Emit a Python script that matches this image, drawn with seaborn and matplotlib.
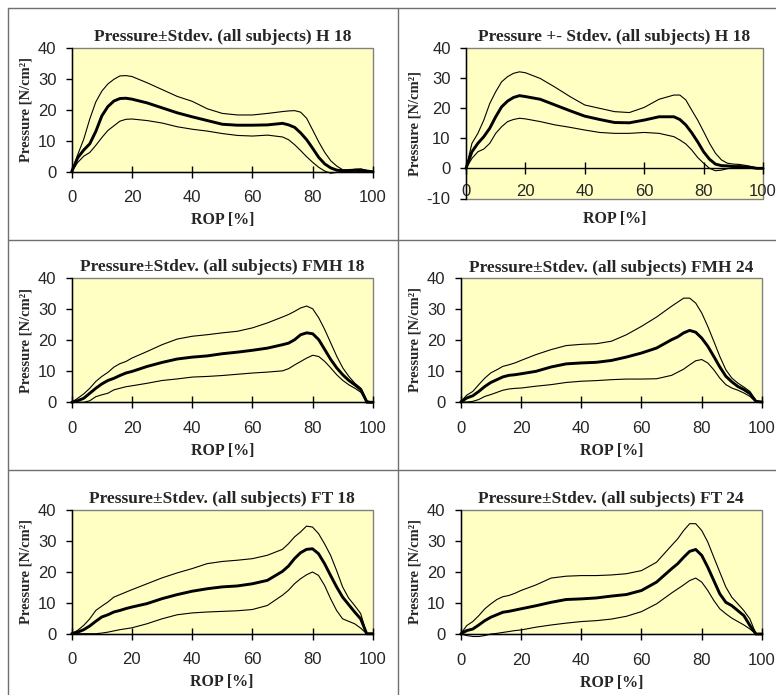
import numpy as np
import pandas as pd
import matplotlib
matplotlib.use("Agg")
import matplotlib.pyplot as plt
import seaborn as sns
from matplotlib.lines import Line2D

# ---------------- data ----------------
ROP = [0, 2, 4, 6, 8, 10, 12, 14, 16, 18, 20, 25, 30, 35, 40, 45, 50, 55, 60, 65,
       70, 72, 74, 76, 78, 80, 82, 84, 86, 88, 90, 92, 94, 96, 98, 100]

H18A_MEAN = [0, 4.5, 7, 9, 13, 18, 21, 22.8, 23.6, 23.7, 23.4, 22.2, 20.6, 19, 17.7, 16.5, 15.3, 15, 15, 15.1,
             15.6, 15.1, 14.3, 12.5, 10.3, 7.5, 4.6, 2.5, 1.2, 0.5, 0.3, 0.4, 0.5, 0.5, 0.2, 0]
H18A_UP = [0, 5.5, 10.5, 17, 22.5, 26, 28.3, 29.8, 30.9, 31, 30.7, 28.7, 26.5, 24.3, 22.7, 20.3, 18.8, 18.3, 18.3, 18.8,
           19.4, 19.6, 19.7, 19.2, 17.2, 13.4, 9.6, 6.2, 3.5, 1.8, 0.6, 0.5, 0.8, 0.9, 0.4, 0]
H18A_LO = [0, 3, 5, 6.2, 8.5, 11, 13.3, 14.8, 16.3, 16.9, 17, 16.5, 15.7, 14.5, 13.7, 13.1, 12.3, 11.7, 11.5, 11.8,
           11.2, 10.3, 8.7, 6.8, 4.8, 3, 1.4, 0.2, -0.5, -0.2, 0, 0, 0, 0, 0, 0]

H18B_MEAN = [0, 5.5, 8.3, 10.5, 13.3, 17.1, 20.4, 22.3, 23.5, 24.1, 23.8, 22.9, 21, 19.1, 17.3, 16.2, 15.2, 15.1, 16, 17.1,
             17.1, 16.2, 14.4, 11.8, 8.8, 5.5, 3, 1.4, 0.9, 0.8, 0.6, 0.6, 0.5, 0.3, 0, 0]
H18B_UP = [0, 8.3, 11.6, 16, 21.5, 25.4, 28.7, 30.4, 31.5, 32, 31.7, 29.8, 26.9, 23.8, 21, 19.9, 18.8, 18.5, 20.2, 22.9,
           24.3, 24.3, 22.7, 19.3, 16, 12.2, 8.3, 5, 2.8, 1.7, 1.4, 1.3, 1, 0.6, 0.1, 0]
H18B_LO = [0, 3.3, 5.5, 6.4, 8.3, 11.6, 13.8, 15.5, 16.2, 16.6, 16.4, 15.5, 14.4, 13.6, 12.7, 11.9, 11.6, 11.6, 11.9, 11.6,
           10.5, 9.4, 8.1, 6.1, 3.6, 1.7, 0, -0.8, -0.6, -0.1, 0.2, 0.3, 0.2, 0.1, 0, 0]

FMH18_MEAN = [0, 0.5, 1.3, 2.9, 4.5, 5.9, 7, 7.7, 8.6, 9.4, 9.9, 11.5, 12.8, 13.9, 14.5, 14.9, 15.6, 16.1, 16.7, 17.4,
              18.5, 19, 20.1, 21.7, 22.3, 22, 20.1, 16.9, 13.7, 11, 8.8, 7, 5.6, 4, 0, 0]
FMH18_UP = [0, 1.3, 2.7, 4.5, 6.7, 8.3, 9.6, 11.3, 12.4, 13.1, 14.2, 16.3, 18.5, 20.3, 21.2, 21.7, 22.3, 22.8, 23.9, 25.5,
            27.4, 28.2, 29.2, 30.3, 30.9, 30, 27.1, 23.3, 19, 14.7, 11, 8.3, 6.1, 4.5, 0.5, 0]
FMH18_LO = [0, 0, 0, 0.5, 1.8, 2.4, 2.9, 4, 4.5, 5, 5.3, 6.1, 7, 7.5, 8.1, 8.3, 8.6, 9, 9.4, 9.7,
            10.1, 10.8, 12, 13.1, 14.2, 15.1, 14.7, 13.1, 11, 8.8, 7, 5.6, 4.5, 3.2, 0, 0]

FMH24_MEAN = [0, 1.3, 2, 3.4, 5, 6.3, 7.2, 8.1, 8.6, 8.8, 9.1, 9.9, 11.3, 12.3, 12.6, 12.8, 13.4, 14.5, 15.8, 17.4,
              20.1, 21, 22.3, 23.1, 22.5, 20.6, 18, 14.7, 11.3, 8.3, 6.5, 5, 4, 2.7, 0.2, 0]
FMH24_UP = [0, 2.2, 3.4, 5.6, 7.7, 9.4, 10.4, 11.5, 12, 12.6, 13.4, 15.3, 16.9, 18.2, 18.6, 18.8, 19.6, 21.7, 24.4, 27.4,
            30.9, 32.2, 33.5, 33.5, 31.9, 28.7, 24.4, 19.6, 14.7, 10.4, 7.7, 6.1, 4.8, 3.4, 0.4, 0]
FMH24_LO = [0, 0, 0.2, 0.8, 1.8, 2.4, 3.1, 3.8, 4.2, 4.4, 4.5, 5.1, 5.6, 6.3, 6.7, 6.9, 7.2, 7.4, 7.4, 7.5,
            8.6, 9.6, 10.6, 12, 13.3, 13.7, 12.6, 10.4, 7.7, 5.6, 4.5, 3.8, 2.9, 1.8, 0, 0]

FT18_MEAN = [0, 0.5, 1.3, 2.5, 4, 5.4, 6.1, 7, 7.5, 8.1, 8.6, 9.7, 11.3, 12.6, 13.7, 14.5, 15.1, 15.4, 16.1, 17.2,
             20.1, 21.8, 24.2, 26.1, 27.2, 27.4, 25.8, 22.6, 18.8, 15.1, 11.8, 9.4, 7, 4.8, 0, 0]
FT18_UP = [0, 1.1, 2.7, 4.8, 7.5, 8.9, 10.2, 11.8, 12.6, 13.4, 14.2, 16.1, 18, 19.6, 21, 22.6, 23.3, 23.7, 24.2, 25.3,
           27.2, 29, 31.2, 32.8, 34.7, 34.4, 32.3, 29, 25.3, 20.4, 15.1, 11.5, 9.1, 6.5, 0, 0]
FT18_LO = [0, 0, 0, 0, 0, 0.2, 0.5, 0.9, 1.3, 1.6, 1.9, 3.2, 4.8, 6.1, 6.7, 7, 7.2, 7.4, 7.8, 9.1,
           12.4, 14, 16.1, 17.7, 19, 19.9, 18.8, 15.6, 11.3, 7.5, 4.8, 4, 3.2, 1.8, 0, 0]

FT24_MEAN = [0, 1.1, 1.6, 2.9, 4.3, 5.4, 6.2, 7, 7.3, 7.7, 8.1, 9.1, 10.2, 11.1, 11.3, 11.6, 12.2, 12.7, 14, 16.7,
             21, 22.6, 24.7, 26.6, 27.2, 25.3, 21.5, 17.2, 12.9, 10.2, 9.1, 7.5, 5.9, 2.7, 0, 0]
FT24_UP = [0, 2.7, 4, 5.9, 8.1, 9.7, 11.1, 12, 12.4, 13.1, 14, 15.8, 18, 18.6, 18.8, 18.8, 19, 19.4, 20.4, 23.1,
           28.5, 30.6, 33.3, 35.5, 35.5, 33.3, 29.6, 24.7, 19.9, 15.1, 11.8, 9.7, 7.5, 4.8, 0, 0]
FT24_LO = [0, -0.5, -0.8, -0.8, -0.5, 0, 0.2, 0.5, 0.8, 1.1, 1.3, 2.2, 2.9, 3.5, 4, 4.3, 4.8, 5.7, 7.2, 9.7,
           13.2, 14.5, 15.8, 17.2, 18, 16.7, 14, 10.8, 8.1, 6.5, 5.1, 4, 2.9, 1.6, 0, 0]

TITLES = ["Pressure\u00b1Stdev. (all subjects) H 18",
          "Pressure +- Stdev. (all subjects) H 18",
          "Pressure\u00b1Stdev. (all subjects) FMH 18",
          "Pressure\u00b1Stdev. (all subjects) FMH 24",
          "Pressure\u00b1Stdev. (all subjects) FT 18",
          "Pressure\u00b1Stdev. (all subjects) FT 24"]
YMIN = [0, -10, 0, 0, 0, 0]
X_TICKS = [0, 20, 40, 60, 80, 100]
XLABEL = "ROP [%]"
YLABEL = "Pressure [N/cm\u00b2]"

SERIES = [(H18A_MEAN, H18A_UP, H18A_LO), (H18B_MEAN, H18B_UP, H18B_LO),
          (FMH18_MEAN, FMH18_UP, FMH18_LO), (FMH24_MEAN, FMH24_UP, FMH24_LO),
          (FT18_MEAN, FT18_UP, FT18_LO), (FT24_MEAN, FT24_UP, FT24_LO)]

# ---------------- styling ----------------
sns.set_theme(style="white")
plt.rcParams["font.family"] = ["Liberation Sans", "DejaVu Sans"]
plt.rcParams["axes.unicode_minus"] = False
SERIF = ["Liberation Serif", "DejaVu Serif"]

W, H = 776, 695
fig = plt.figure(figsize=(W / 100, H / 100), dpi=100)
fig.patch.set_facecolor("white")


def rect(l, r, t, b):
    return [l / W, 1 - b / H, (r - l) / W, (b - t) / H]


RECTS = [rect(71.7, 373, 47.7, 171.7), rect(466, 763, 47.7, 198.5),
         rect(71.7, 373, 277.7, 402.3), rect(460.7, 762, 278, 402),
         rect(71.7, 372.7, 509.7, 633.7), rect(460.7, 762, 509.7, 634)]

for i, (r, (mean, up, lo)) in enumerate(zip(RECTS, SERIES)):
    ax = fig.add_axes(r)
    df = pd.DataFrame({"ROP": ROP, "mean": mean, "up": up, "lo": lo})
    for col, lw in (("up", 0.8), ("lo", 0.8), ("mean", 2.1)):
        sns.lineplot(data=df, x="ROP", y=col, ax=ax, color="black", linewidth=lw,
                     estimator=None, sort=False)
    ax.set_xlim(0, 100)
    ax.set_ylim(YMIN[i], 40)
    ax.set_xticks(X_TICKS)
    ax.set_yticks(list(range(YMIN[i], 41, 10)))
    ax.set_facecolor("#FFFFC4")
    ax.patch.set_edgecolor("#808080")
    ax.patch.set_linewidth(1.0)
    for s in ("top", "right"):
        ax.spines[s].set_visible(False)
    for s in ("left", "bottom"):
        ax.spines[s].set_color("black")
        ax.spines[s].set_linewidth(1.0)
    if YMIN[i] < 0:
        ax.spines["bottom"].set_position(("data", 0))
        ax.tick_params(axis="x", pad=7.0)
    else:
        ax.tick_params(axis="x", pad=9.5)
    ax.tick_params(axis="x", direction="inout", length=8, width=1, color="black",
                   labelsize=12, bottom=True)
    ax.tick_params(axis="y", direction="out", length=4.5, width=1, color="black",
                   labelsize=12, pad=6.5, left=True)
    ax.set_title(TITLES[i], fontfamily=SERIF, fontweight="bold", fontsize=12.5, pad=4.5)
    ax.set_xlabel(XLABEL, fontfamily=SERIF, fontweight="bold", fontsize=11.5, labelpad=5)
    ax.set_ylabel(YLABEL, fontfamily=SERIF, fontweight="bold", fontsize=10.5, labelpad=4)
    if YMIN[i] < 0:
        ax.xaxis.set_label_coords(0.5, -0.083)
    for line in ax.lines:
        line.set_clip_on(False)
    if ax.get_legend():
        ax.get_legend().remove()

# table grid lines (decoration)
GRID_COLOR = "#707070"
for (x0, y0, x1, y1) in [(8, 8, 776, 8), (8, 8, 8, 695), (398, 8, 398, 695),
                          (8, 240, 776, 240), (8, 470, 776, 470)]:
    fig.add_artist(Line2D([x0 / W, x1 / W], [1 - y0 / H, 1 - y1 / H],
                          color=GRID_COLOR, linewidth=1.0, transform=fig.transFigure))

fig.savefig("out.png", dpi=100)
